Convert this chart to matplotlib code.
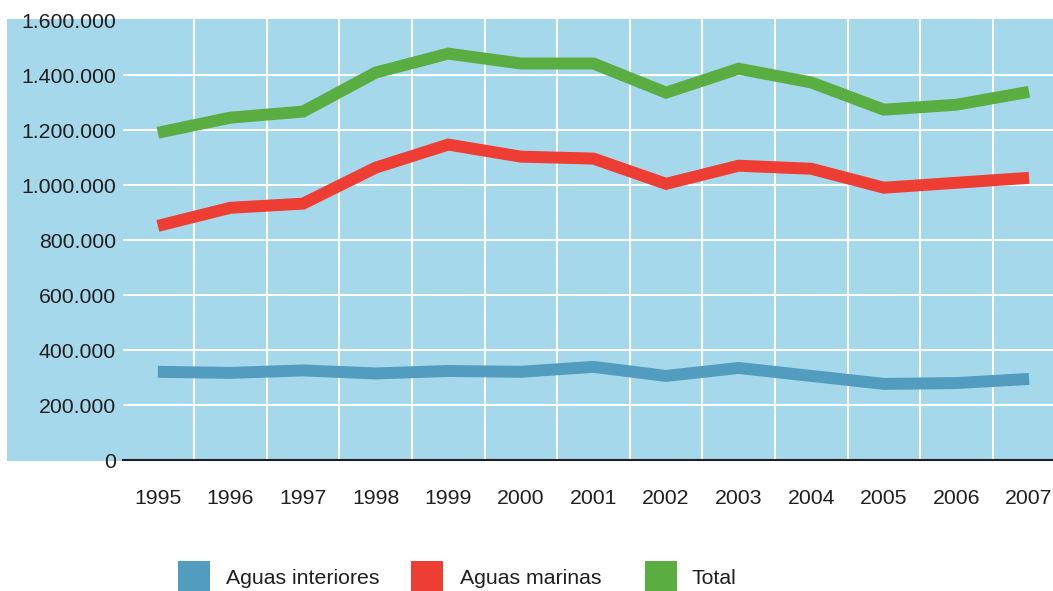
# ---------- IMPORT ------------
import matplotlib
matplotlib.use("Agg")
import matplotlib.pyplot as plt
from matplotlib.patches import Rectangle
from matplotlib.ticker import FuncFormatter, MultipleLocator, FixedLocator
# ------------------------------


# ---------- DATA --------------
years = ["1995", "1996", "1997", "1998", "1999", "2000", "2001",
         "2002", "2003", "2004", "2005", "2006", "2007"]
aguas_interiores = [321000, 317000, 326000, 315000, 324000, 321000, 339000,
                    306000, 335000, 306000, 277000, 280000, 295000]
aguas_marinas = [852000, 918000, 933000, 1064000, 1148000, 1104000, 1097000,
                 1005000, 1071000, 1060000, 991000, 1009000, 1027000]
total = [1191000, 1246000, 1268000, 1410000, 1479000, 1443000, 1443000,
         1337000, 1424000, 1374000, 1275000, 1293000, 1340000]
series_names = ["Aguas interiores", "Aguas marinas", "Total"]
# ------------------------------


# ---------- CONFIG ------------
c = ["#519CBF", "#EE3D33", "#5AAE41"]
bg = "#A5D8EB"
plt.rcParams["font.family"] = ["Liberation Sans", "DejaVu Sans"]
W, H = 1053, 591
fs = 15.3
# ------------------------------


fig = plt.figure(figsize=(W / 100, H / 100), dpi=100)
ax = fig.add_axes([123 / W, (H - 460) / H, 1 - 123 / W, (460 - 19) / H])
ax.set_facecolor(bg)

# blue band behind the y tick labels
fig.add_artist(Rectangle((7 / W, (H - 461) / H), (123 - 7) / W, (461 - 19) / H,
                         transform=fig.transFigure, facecolor=bg,
                         edgecolor="none", zorder=-1))

x = list(range(len(years)))
for vals, col in zip([aguas_interiores, aguas_marinas, total], c):
    ax.plot(x, vals, color=col, lw=8.6, solid_capstyle="butt",
            solid_joinstyle="miter", zorder=3)

ax.set_xlim(-0.48, 12.33)
ax.set_ylim(0, 1605000)

ax.xaxis.set_major_locator(FixedLocator(x))
ax.set_xticks(x)
ax.set_xticklabels(years)
ax.xaxis.set_minor_locator(FixedLocator([i + 0.5 for i in range(12)]))
ax.yaxis.set_major_locator(MultipleLocator(200000))
ax.yaxis.set_major_formatter(FuncFormatter(lambda v, p: f"{int(v):,}".replace(",", ".")))

ax.grid(False)
ax.grid(True, which="minor", axis="x", color="white", lw=1.5)
for yv in range(200000, 1600000, 200000):
    ax.axhline(yv, color="white", lw=1.5, zorder=1)
ax.set_axisbelow(True)

ax.tick_params(axis="both", which="both", length=0, labelsize=fs, colors="#231F20")
ax.tick_params(axis="y", pad=5)
ax.tick_params(axis="x", pad=21)

for s in ["top", "right", "left"]:
    ax.spines[s].set_visible(False)
ax.spines["bottom"].set_color("#231F20")
ax.spines["bottom"].set_linewidth(1.5)
ax.spines["bottom"].set_zorder(4)

# legend
sq_x = [178, 411, 645]
txt_x = [226, 460, 691]
for name, col, sx, tx in zip(series_names, c, sq_x, txt_x):
    fig.add_artist(Rectangle((sx / W, 0), 32 / W, (H - 561) / H,
                             transform=fig.transFigure, facecolor=col,
                             edgecolor="none"))
    fig.text(tx / W, (H - 579) / H, name, fontsize=fs, color="#231F20",
             va="center", ha="left")

fig.savefig("out.png", dpi=100)
